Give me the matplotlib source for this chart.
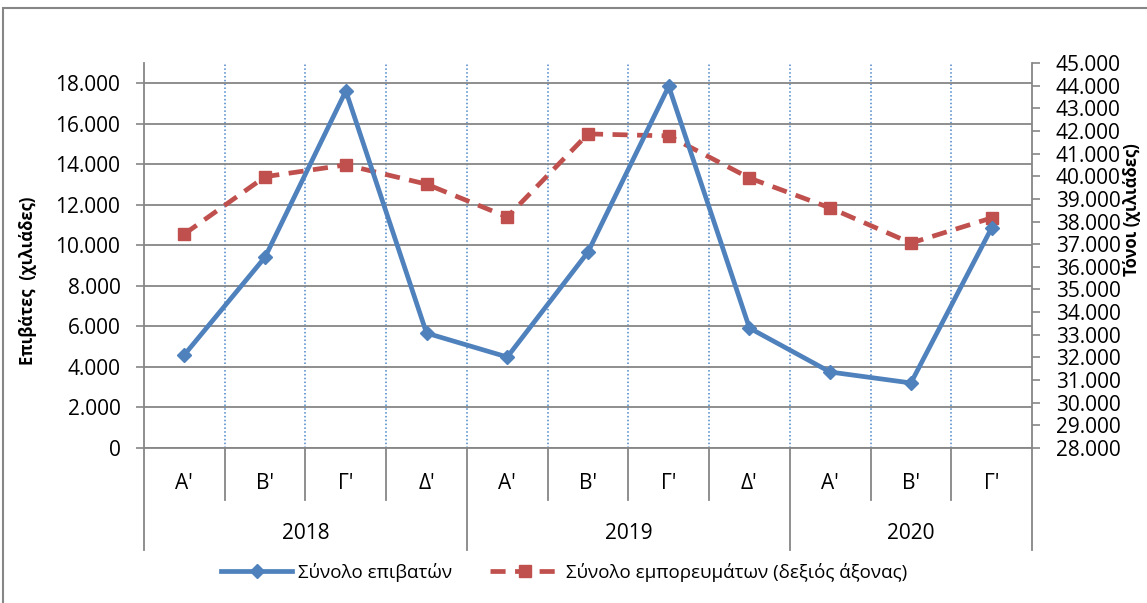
import matplotlib
matplotlib.use("Agg")
import matplotlib.pyplot as plt
from matplotlib.ticker import FuncFormatter, FixedLocator
from matplotlib.lines import Line2D
from matplotlib.patches import Rectangle
import matplotlib.transforms as mtransforms

plt.rcParams['font.family'] = ['Open Sans', 'DejaVu Sans']

# ---- data ----
quarters = ["Α'", "Β'", "Γ'", "Δ'", "Α'", "Β'", "Γ'", "Δ'", "Α'", "Β'", "Γ'"]
years = ["2018", "2019", "2020"]
year_of = [0, 0, 0, 0, 1, 1, 1, 1, 2, 2, 2]
passengers = [4600, 9420, 17620, 5670, 4490, 9670, 17850, 5920, 3750, 3210, 10860]
goods = [37450, 39980, 40500, 39650, 38200, 41870, 41780, 39920, 38600, 37050, 38160]
left_ticks = list(range(0, 18001, 2000))
right_ticks = list(range(28000, 45001, 1000))

BLUE = '#4F81BD'
RED = '#C0504D'
GRAY = '#868686'
GRIDBLUE = '#4A86C8'

def fmt(v, pos=None):
    return f"{v:,.0f}".replace(",", ".")

fig = plt.figure(figsize=(11.47, 6.03), dpi=100)
fig.patch.set_facecolor('white')
fig.patches.append(Rectangle((3/1147, -0.1), 1.2, 1 - 8/603 + 0.1, transform=fig.transFigure,
                             fill=False, edgecolor=GRAY, linewidth=1.5, zorder=-10))

left = 144/1147; right = 1032/1147
bottom = 1 - 448/603; top = 1 - 63/603
ax = fig.add_axes([left, bottom, right - left, top - bottom])
n = len(quarters)
x = list(range(n))
ax.set_xlim(-0.5, n - 0.5)
ax.set_ylim(0, 19000)

# left axis
ax.yaxis.set_major_locator(FixedLocator(left_ticks))
ax.yaxis.set_major_formatter(FuncFormatter(fmt))
ax.tick_params(axis='y', direction='out', length=6, width=1.2, color=GRAY,
               labelsize=15, pad=11)
ax.grid(axis='y', color=GRAY, linewidth=1.3)
ax.set_axisbelow(True)
# category boundaries as dotted vertical gridlines
bounds = [i + 0.5 for i in range(n - 1)]
ax.set_xticks([])
ax.set_xticks(bounds, minor=True)
ax.tick_params(axis='x', which='minor', length=0, labelbottom=False)
ax.grid(axis='x', which='minor', color=GRIDBLUE, linestyle=(0, (1, 1.5)), linewidth=1.1)
for s in ['top', 'right']:
    ax.spines[s].set_visible(False)
for s in ['left', 'bottom']:
    ax.spines[s].set_color(GRAY)
    ax.spines[s].set_linewidth(1.3)
ax.text(-0.131, 0.434, 'Επιβάτες  (χιλιάδες)', transform=ax.transAxes, rotation=90,
        ha='center', va='center', fontsize=12, fontweight='bold')

# multi-level category axis
trans = mtransforms.blended_transform_factory(ax.transData, ax.transAxes)
year_bounds = [-0.5]
for i in range(1, n):
    if year_of[i] != year_of[i - 1]:
        year_bounds.append(i - 0.5)
year_bounds.append(n - 0.5)
for b in bounds:
    if b in year_bounds:
        continue
    ax.plot([b, b], [0, -0.135], transform=trans, color=GRAY, lw=1.3, clip_on=False)
for b in year_bounds:
    ax.plot([b, b], [0, -0.265], transform=trans, color=GRAY, lw=1.3, clip_on=False)
for i, q in enumerate(quarters):
    ax.text(i, -0.091, q, transform=trans, ha='center', va='center', fontsize=15)
for yi, yr in enumerate(years):
    idx = [i for i in range(n) if year_of[i] == yi]
    ax.text(sum(idx) / len(idx), -0.221, yr, transform=trans, ha='center', va='center', fontsize=15)

# right axis (goods)
ax2 = ax.twinx()
ax2.set_ylim(28000, 45000)
ax2.yaxis.set_major_locator(FixedLocator(right_ticks))
ax2.yaxis.set_major_formatter(FuncFormatter(fmt))
ax2.tick_params(axis='y', direction='out', length=6, width=1.2, color=GRAY,
                labelsize=15, pad=11)
for s in ['top', 'left', 'bottom']:
    ax2.spines[s].set_visible(False)
ax2.spines['right'].set_color(GRAY)
ax2.spines['right'].set_linewidth(1.3)
ax2.plot(x, goods, color=RED, lw=3.4, linestyle=(0, (3.2, 2.0)), marker='s',
         markersize=9, markerfacecolor=RED, markeredgecolor=RED, clip_on=False)
ax2.text(1.113, 0.618, 'Τόνοι (χιλιάδες)', transform=ax2.transAxes, rotation=90,
         ha='center', va='center', fontsize=12, fontweight='bold')

# passengers on top, left scale
ax3 = ax.twinx()
ax3.set_ylim(ax.get_ylim())
ax3.axis('off')
ax3.plot(x, passengers, color=BLUE, lw=3.4, marker='D', markersize=7.5,
         markerfacecolor=BLUE, markeredgecolor=BLUE, clip_on=False)

handles = [
    Line2D([], [], color=BLUE, lw=3.4, marker='D', markersize=7.5),
    Line2D([], [], color=RED, lw=3.4, linestyle=(0, (3.2, 2.0)), marker='s', markersize=9),
]
labels = ['Σύνολο επιβατών', 'Σύνολο εμπορευμάτων (δεξιός άξονας)']
fig.legend(handles, labels, loc='center', bbox_to_anchor=(0.492, 0.0514), ncol=2,
           frameon=False, fontsize=13.5, handlelength=3.8, columnspacing=2.0,
           handletextpad=0.3)

fig.savefig('out.png', dpi=100)
